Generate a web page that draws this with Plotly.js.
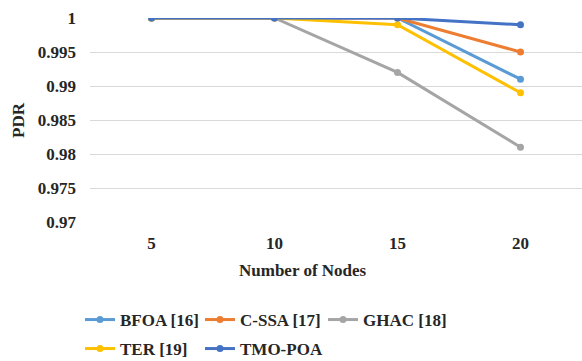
<!DOCTYPE html>
<html><head><meta charset="utf-8">
<script src="https://cdn.plot.ly/plotly-3.0.1.min.js"></script>
<style>html,body{margin:0;padding:0;background:#fff}</style>
</head><body>
<div id="chart" style="width:582px;height:361px"></div>
<script>
const categories = ["5", "10", "15", "20"];
const seriesNames = ["BFOA [16]", "C-SSA [17]", "GHAC [18]", "TER [19]", "TMO-POA"];
const bfoa = [1, 1, 1, 0.991];
const cssa = [1, 1, 1, 0.995];
const ghac = [1, 1, 0.992, 0.981];
const ter = [1, 1, 0.999, 0.989];
const tmopoa = [1, 1, 1, 0.999];
const yTicks = [0.97, 0.975, 0.98, 0.985, 0.99, 0.995, 1];
const yTickLabels = ["0.97", "0.975", "0.98", "0.985", "0.99", "0.995", "1"];

const colors = ["#5B9BD5", "#ED7D31", "#A5A5A5", "#FFC000", "#4472C4"];
const values = [bfoa, cssa, ghac, ter, tmopoa];
const legendIds = ["legend", "legend2", "legend3", "legend4", "legend5"];
const legendPos = [[80, 302], [200, 302], [323, 302], [80, 331], [200, 331]];
function F(){ return {family: "Liberation Serif", size: 17, color: "#262626", weight: "bold"}; }

const traces = values.map((v, i) => ({
  x: categories, y: v, name: seriesNames[i], type: "scatter", mode: "lines+markers",
  line: {color: colors[i], width: 3}, marker: {color: colors[i], size: 7},
  legend: legendIds[i]
}));

const layout = {
  width: 582, height: 361,
  margin: {l: 90, r: 0, t: 18, b: 139},
  paper_bgcolor: "#fff", plot_bgcolor: "#fff",
  font: F(),
  showlegend: true,
  xaxis: {type: "category", range: [-0.5, 3.5], showgrid: false, zeroline: false, showline: false,
          ticks: "", tickfont: F(), ticklabelstandoff: 9},
  yaxis: {range: [0.97, 1], tickvals: yTicks, ticktext: yTickLabels, showgrid: true, gridcolor: "#d9d9d9",
          gridwidth: 1, zeroline: false, showline: false, ticks: "", tickfont: F(), ticklabelstandoff: 13},
  annotations: [
    {text: "Number of Nodes", xref: "paper", yref: "paper", x: (303 - 90) / 492, y: -(270 - 222) / 204,
     xanchor: "center", yanchor: "middle", showarrow: false, font: F()},
    {text: "PDR", xref: "paper", yref: "paper", x: -(90 - 18) / 492, y: 0.5, textangle: -90,
     xanchor: "center", yanchor: "middle", showarrow: false, font: F()}
  ]
};
legendIds.forEach((id, i) => {
  layout[id] = {orientation: "h", xref: "container", yref: "container",
    x: legendPos[i][0] / 582, y: 1 - legendPos[i][1] / 361, xanchor: "left", yanchor: "top",
    font: F(), itemwidth: 30, bgcolor: "rgba(0,0,0,0)"};
});
Plotly.newPlot("chart", traces, layout, {displayModeBar: false});
</script>
</body></html>
